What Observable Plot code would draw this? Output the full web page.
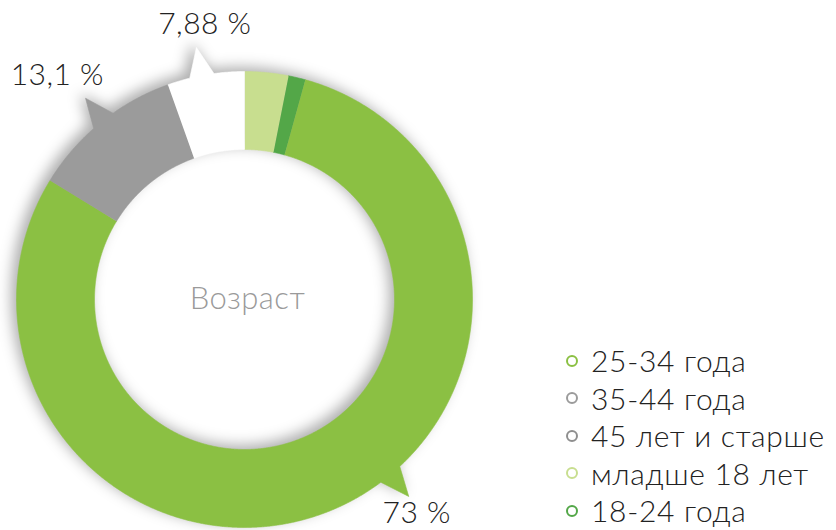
<!DOCTYPE html>
<html>
<head>
<meta charset="utf-8">
<script src="https://cdn.jsdelivr.net/npm/d3@7"></script>
<script src="https://cdn.jsdelivr.net/npm/@observablehq/plot@0.6"></script>
<style>
  html, body { margin: 0; padding: 0; background: #fff; }
  #wrap { position: relative; width: 836px; height: 530px; overflow: hidden; font-family: Lato, "Open Sans", sans-serif; }
  #legend { position: absolute; left: 566px; top: 342px; font-size: 30px; font-weight: 300; color: #222; line-height: 37.5px; letter-spacing: 0.7px; }
  .row { display: flex; align-items: center; white-space: nowrap; }
  .mk { width: 8px; height: 8px; border-radius: 50%; border: 2.6px solid; margin-right: 13px; box-sizing: content-box; }
</style>
</head>
<body>
<div id="wrap"><div id="legend"></div></div>
<script>
// ---- data (clockwise from 12 o'clock) ----
const categories = ["младше 18 лет", "18-24 года", "25-34 года", "35-44 года", "45 лет и старше"];
const shares = [3.1, 1.2, 79.4, 10.8, 5.45];           // drawn share of the ring
const sliceColors = ["#c8de8f", "#53a748", "#8bc043", "#9b9b9b", "#ffffff"];
const valueLabels = ["", "", "73 %", "13,1 %", "7,88 %"];
const centerTitle = "Возраст";
const legendOrder = ["25-34 года", "35-44 года", "45 лет и старше", "младше 18 лет", "18-24 года"];
const legendColors = ["#8bc043", "#9b9b9b", "#8f8f8f", "#c8de8f", "#53a748"];

// ---- layout ----
const W = 836, H = 530, CX = 244, CY = 299, R = 228;
const rIn = 150 / R, tipR = 1.125;
const halfBase = 3.1 * Math.PI / 180;
const deg = Math.PI / 180;
// callout position within slice, label angle shift and label radius
const callout = {
  "25-34 года": {frac: 0.436, dA: 1.0, r: 1.205},
  "35-44 года": {frac: 0.52, dA: -1.6, r: 1.28},
  "45 лет и старше": {frac: 0.45, dA: 2.6, r: 1.22}
};

const arcs = d3.pie().sort(null).value(d => d)(shares);
const pts = [];
const labels = [];
const P = (a, r) => ({x: r * Math.sin(a), y: r * Math.cos(a)});
arcs.forEach((a, i) => {
  const key = categories[i];
  const a0 = a.startAngle, a1 = a.endAngle;
  const push = (ang, r) => { const p = P(ang, r); pts.push({key, x: p.x, y: p.y}); };
  const sample = (from, to, r) => {
    const n = Math.max(2, Math.ceil(Math.abs(to - from) / 0.004));
    for (let k = 0; k <= n; k++) push(from + (to - from) * k / n, r);
  };
  if (valueLabels[i]) {
    const c = callout[key];
    const ac = a0 + (a1 - a0) * c.frac;
    sample(a0, ac - halfBase, 1);
    push(ac, tipR);
    sample(ac + halfBase, a1, 1);
    const lp = P(ac + c.dA * deg, c.r);
    labels.push({x: lp.x, y: lp.y, text: valueLabels[i]});
  } else {
    sample(a0, a1, 1);
  }
  sample(a1, a0, rIn);
});

const chart = Plot.plot({
  width: W, height: H,
  margin: 0,
  x: {domain: [-CX / R, (W - CX) / R], axis: null},
  y: {domain: [-(H - CY) / R, CY / R], axis: null},
  color: {domain: categories, range: sliceColors},
  marks: [
    Plot.line(pts, {x: "x", y: "y", z: "key", fill: "key", stroke: "key", strokeWidth: 0.6, curve: "linear"}),
    Plot.text([centerTitle], {x: 0, y: 0, dx: 3, text: d => d, fill: "#9a9a9a", fontSize: 31, fontWeight: 300, fontFamily: "Lato, 'Open Sans', sans-serif"}),
    Plot.text(labels, {x: "x", y: "y", text: "text", fill: "#222", fontSize: 30, fontWeight: 300, fontFamily: "Lato, 'Open Sans', sans-serif", textAnchor: "middle", lineAnchor: "middle"})
  ]
});
d3.select(chart).selectAll('g[aria-label="line"]').style("filter", "drop-shadow(-5px -4px 7px rgba(0,0,0,0.32))");
d3.select(chart).selectAll('g[aria-label="text"] text').style("letter-spacing", "0.5px");
document.getElementById("wrap").prepend(chart);

const lg = d3.select("#legend");
legendOrder.forEach((name, i) => {
  const row = lg.append("div").attr("class", "row");
  row.append("span").attr("class", "mk").style("border-color", legendColors[i]);
  row.append("span").text(name);
});
</script>
</body>
</html>
